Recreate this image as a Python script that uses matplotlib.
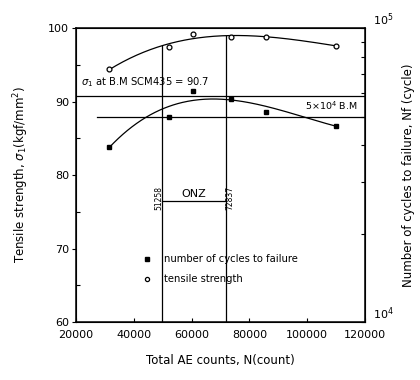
import numpy as np
import matplotlib
matplotlib.use("Agg")
import matplotlib.pyplot as plt
from matplotlib.ticker import LogLocator, NullFormatter, FixedLocator

# ---- data ----
ae_counts = [31500, 52300, 60400, 73600, 85700, 110000]
tensile_strength = [94.4, 97.4, 99.2, 98.8, 98.8, 97.6]
cycles_to_failure = [39300, 49900, 61000, 57500, 51700, 46400]
bm_strength = 90.7
bm_cycles = 5e4
onz_bounds = [49800, 71900]
onz_labels = ["51258", "72837"]
onz_level = 76.5
x_ticks = [20000, 40000, 60000, 80000, 100000, 120000]
y_ticks = [60, 70, 80, 90, 100]

plt.rcParams['font.family'] = ['DejaVu Sans']
fig = plt.figure(figsize=(4.2, 3.8), dpi=100)
ax = fig.add_axes([0.181, 0.1526, 0.688, 0.7734])
ax2 = ax.twinx()

ax.set_xlim(20000, 120000)
ax.set_ylim(60, 100)
ax2.set_yscale('log')
ax2.set_ylim(1e4, 1e5)

fs = 8
# smooth fitted curves
xs = np.array(ae_counts, float)
xx = np.linspace(xs[0], xs[-1], 200)
pt = np.polyfit(xs / 1e5, tensile_strength, 3)
ax.plot(xx, np.polyval(pt, xx / 1e5), color='black', lw=0.9)
w = [3, 1, 1, 2, 1, 3]
pc = np.polyfit(xs / 1e5, np.log10(cycles_to_failure), 3, w=w)
ax2.plot(xx, 10 ** np.polyval(pc, xx / 1e5), color='black', lw=0.9)

ax.plot(ae_counts, tensile_strength, 'o', mfc='white', mec='black', ms=3.5, mew=0.9)
ax2.plot(ae_counts, cycles_to_failure, 's', color='black', ms=3.2)

# reference lines
ax.axhline(bm_strength, color='black', lw=0.9)
ax2.plot([27400, 120000], [bm_cycles, bm_cycles], color='black', lw=0.9)
ax.text(21800, 92.6, r"$\sigma_1$ at B.M SCM435 = 90.7", fontsize=7.2, ha='left', va='center')
ax.text(117500, 89.4, r"5$\times$10$^4$ B.M", fontsize=6.8, ha='right', va='center')

# ONZ lines
for xb, lab, side in zip(onz_bounds, onz_labels, [-1, 1]):
    top = np.polyval(pt, xb / 1e5)
    ax.plot([xb, xb], [60, top], color='black', lw=0.9)
    ax.text(xb + side * 1300, onz_level + 0.4, lab, rotation=90, fontsize=5.5,
            ha='center', va='center')
ax.plot(onz_bounds, [onz_level, onz_level], color='black', lw=0.9)
ax.text(sum(onz_bounds) / 2, onz_level + 0.3, "ONZ", fontsize=8, ha='center', va='bottom')

# legend
ax.plot([44500], [68.6], 's', color='black', ms=3)
ax.text(50500, 68.6, "number of cycles to failure", fontsize=7.2, va='center')
ax.plot([44500], [65.8], 'o', mfc='white', mec='black', ms=3, mew=0.9)
ax.text(50500, 65.8, "tensile strength", fontsize=7.2, va='center')

# axes formatting
ax.set_xticks(x_ticks)
ax.set_xticklabels([str(v) for v in x_ticks], fontsize=fs)
ax.set_yticks(y_ticks)
ax.set_yticklabels([str(v) for v in y_ticks], fontsize=fs)
ax.yaxis.set_minor_locator(FixedLocator([65, 75, 85, 95]))
ax.tick_params(axis='x', direction='in', length=3, width=0.8, pad=6)
ax.tick_params(axis='y', direction='out', length=3, width=0.8, pad=2)
ax.tick_params(axis='y', which='minor', direction='in', length=3, width=0.8)

ax2.yaxis.set_major_locator(FixedLocator([1e4, 1e5]))
ax2.set_yticklabels([r"10$^4$", r"10$^5$"], fontsize=fs)
for lbl in ax2.get_yticklabels():
    lbl.set_verticalalignment('bottom')
ax2.yaxis.set_minor_locator(LogLocator(base=10, subs=np.arange(2, 10)))
ax2.yaxis.set_minor_formatter(NullFormatter())
ax2.tick_params(axis='y', which='both', direction='in', length=3, width=0.8, pad=6)

for s in ax.spines.values():
    s.set_linewidth(1.1)

ax.set_xlabel("Total AE counts, N(count)", fontsize=8.5, labelpad=10)
ax.set_ylabel(r"Tensile strength, $\sigma_1$(kgf/mm$^2$)", fontsize=8.5, labelpad=12)
ax2.set_ylabel("Number of cycles to failure, Nf (cycle)", fontsize=8.5, labelpad=6)

fig.savefig("out.png", dpi=100)
